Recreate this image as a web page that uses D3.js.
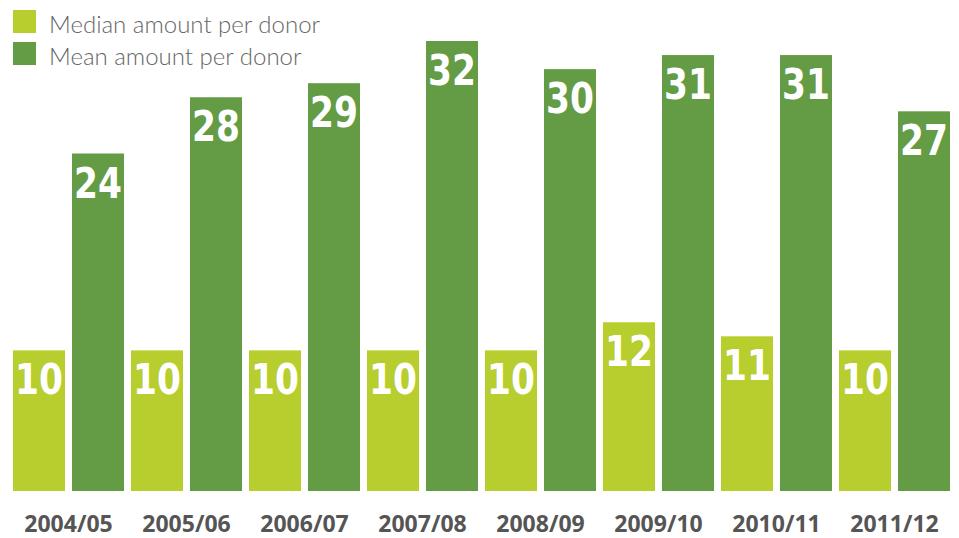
<!DOCTYPE html>
<html>
<head>
<meta charset="utf-8">
<script src="https://cdn.jsdelivr.net/npm/d3@7"></script>
<style>
  body { margin: 0; background: #fff; }
</style>
</head>
<body>
<div id="chart"></div>
<script>
// data
var years = ["2004/05", "2005/06", "2006/07", "2007/08", "2008/09", "2009/10", "2010/11", "2011/12"];
var medianValues = [10, 10, 10, 10, 10, 12, 11, 10];
var meanValues = [24, 28, 29, 32, 30, 31, 31, 27];
var seriesNames = ["Median amount per donor", "Mean amount per donor"];
var seriesColors = ["#b7ce2e", "#639c45"];

var width = 959, height = 538;

var svg = d3.select("#chart")
  .append("svg")
    .attr("width", width)
    .attr("height", height);

var data = years.map(function(y, i){
  return { year: y, values: [medianValues[i], meanValues[i]] };
});

// group scale + bar scale inside each group
var x0 = d3.scaleBand()
  .domain(years)
  .range([13, 950])
  .paddingInner(7 / 118)
  .paddingOuter(0);

var x1 = d3.scaleBand()
  .domain([0, 1])
  .range([0, x0.bandwidth()])
  .paddingInner(7 / 59);

var y = d3.scaleLinear()
  .domain([0, 32])
  .range([491, 41]);

var groups = svg.append("g")
  .selectAll("g")
  .data(data)
  .enter()
  .append("g")
    .attr("transform", function(d){ return "translate(" + x0(d.year) + ",0)"; });

var bars = groups.selectAll("g")
  .data(function(d){ return d.values.map(function(v, k){ return { k: k, v: v }; }); })
  .enter()
  .append("g");

bars.append("rect")
    .attr("x", function(d){ return x1(d.k); })
    .attr("y", function(d){ return y(d.v); })
    .attr("width", x1.bandwidth())
    .attr("height", function(d){ return y(0) - y(d.v); })
    .style("fill", function(d){ return seriesColors[d.k]; });

// value labels, white, inside top of bar (squeezed a bit to look condensed)
bars.append("text")
    .attr("transform", function(d){
      return "translate(" + (x1(d.k) + x1.bandwidth() / 2) + "," + (y(d.v) + 44) + ") scale(0.8,1)";
    })
    .attr("text-anchor", "middle")
    .style("font-family", "'DejaVu Sans', 'Roboto', sans-serif")
    .style("font-weight", "bold")
    .style("font-size", "43px")
    .style("fill", "#fff")
    .text(function(d){ return d.v; });

// x axis labels (no line, no ticks)
var xAxis = d3.axisBottom(x0).tickSize(0).tickPadding(0);
var gx = svg.append("g")
  .attr("transform", "translate(0,511)")
  .call(xAxis);
gx.select(".domain").remove();
gx.selectAll("text")
  .attr("dy", "0.92em")
  .style("font-family", "'Open Sans', sans-serif")
  .style("font-weight", "bold")
  .style("font-size", "23px")
  .style("fill", "#555");

// legend
var legend = svg.append("g")
  .selectAll("g")
  .data(seriesNames)
  .enter()
  .append("g")
    .attr("transform", function(d, i){ return "translate(13," + (10 + i * 32) + ")"; });

legend.append("rect")
    .attr("width", 23)
    .attr("height", 23)
    .style("fill", function(d, i){ return seriesColors[i]; });

legend.append("text")
    .attr("x", 36)
    .attr("y", 23)
    .style("font-family", "Lato, sans-serif")
    .style("font-weight", 300)
    .style("font-size", "24px")
    .style("fill", "#666")
    .text(function(d){ return d; });
</script>
</body>
</html>
